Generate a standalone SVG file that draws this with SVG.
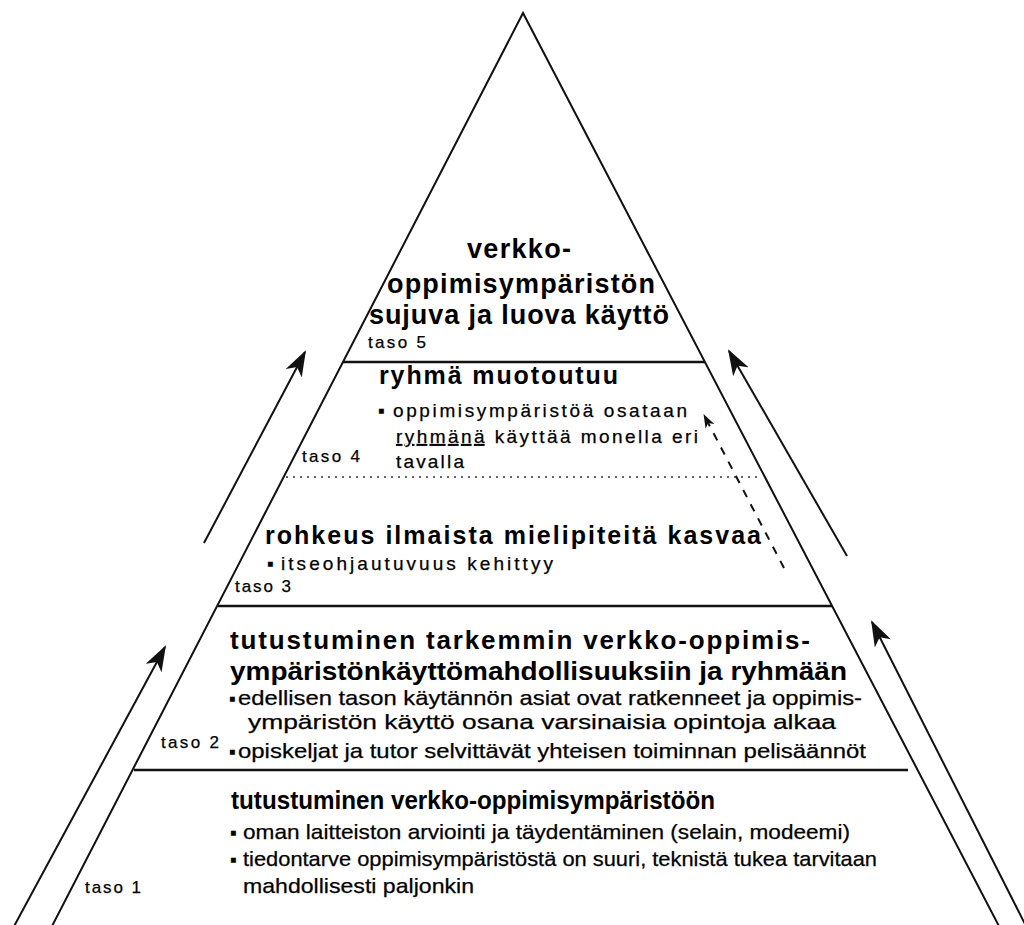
<svg xmlns="http://www.w3.org/2000/svg" width="1024" height="925" viewBox="0 0 1024 925">
<style>
  .t{font-family:"Liberation Sans",Arial,sans-serif;font-weight:bold;font-size:25px;fill:#000}
  .t5{font-size:27px}
  .t2{font-size:26px}
  .b{font-family:"Liberation Sans",Arial,sans-serif;font-size:19px;fill:#000;stroke:#000;stroke-width:0.25}
  .c{font-size:21px}
  .l{font-family:"Liberation Sans",Arial,sans-serif;font-size:17px;fill:#000;stroke:#000;stroke-width:0.25}
  .side{stroke:#111;stroke-width:2;fill:none}
  .hl{stroke:#111;stroke-width:2.5}
  .dot{stroke:#333;stroke-width:1.5;stroke-dasharray:2 5}
  .arr{stroke:#111;stroke-width:2;fill:none;marker-end:url(#ah)}
  .darr{stroke:#111;stroke-width:2;fill:none;stroke-dasharray:8 8;marker-end:url(#ahs)}
</style>
<defs>
  <marker id="ah" viewBox="0 0 26 18" refX="24" refY="9" markerWidth="26" markerHeight="18" orient="auto" markerUnits="userSpaceOnUse">
    <path d="M0,0 L26,9 L0,18 L7,9 Z" fill="#111"/>
  </marker>
  <marker id="ahs" viewBox="0 0 14 10" refX="13" refY="5" markerWidth="14" markerHeight="10" orient="auto" markerUnits="userSpaceOnUse">
    <path d="M0,0 L14,5 L0,10 L4,5 Z" fill="#111"/>
  </marker>
</defs>

<g id="pyramid">
  <polyline class="side" points="50,930 523,13 1001,930"/>
  <line class="hl" x1="343" y1="362" x2="705" y2="362"/>
  <line class="dot" x1="286" y1="477" x2="758" y2="477"/>
  <line class="hl" x1="218" y1="606" x2="832" y2="606" stroke-width="3"/>
  <line class="hl" x1="134" y1="770" x2="908" y2="770"/>
</g>

<g id="connectors">
  <line class="arr" x1="12" y1="930" x2="165" y2="647"/>
  <line class="arr" x1="204" y1="543" x2="305" y2="352"/>
  <line class="arr" x1="847" y1="556" x2="729" y2="351"/>
  <line class="arr" x1="1028" y1="930" x2="872" y2="622"/>
  <line class="darr" x1="784" y1="568" x2="704" y2="415"/>
</g>

<g id="taso5">
  <text class="t t5" x="519" y="258" text-anchor="middle" textLength="104">verkko-</text>
  <text class="t t5" x="521" y="293" text-anchor="middle" textLength="268">oppimisympäristön</text>
  <text class="t t5" x="519" y="324" text-anchor="middle" textLength="300">sujuva ja luova käyttö</text>
  <text class="l" x="368" y="348" textLength="58">taso 5</text>
</g>

<g id="taso4">
  <text class="t" x="379" y="384" textLength="239">ryhmä muotoutuu</text>
  <text class="b" x="378" y="417">▪</text>
  <text class="b" x="393" y="417" textLength="294">oppimisympäristöä osataan</text>
  <text class="b" x="396" y="443" textLength="302"><tspan text-decoration="underline">ryhmänä</tspan> käyttää monella eri</text>
  <text class="b" x="396" y="468" textLength="68">tavalla</text>
  <text class="l" x="302" y="462" textLength="58">taso 4</text>
</g>

<g id="taso3">
  <text class="t" x="265" y="544" textLength="496">rohkeus ilmaista mielipiteitä kasvaa</text>
  <text class="b" x="267" y="570">▪</text>
  <text class="b" x="281" y="570" textLength="272">itseohjautuvuus kehittyy</text>
  <text class="l" x="235" y="592" textLength="56">taso 3</text>
</g>

<g id="taso2">
  <text class="t t2" x="230" y="649" textLength="580">tutustuminen tarkemmin verkko-oppimis-</text>
  <text class="t t2" x="230" y="680" textLength="617" lengthAdjust="spacingAndGlyphs">ympäristönkäyttömahdollisuuksiin ja ryhmään</text>
  <text class="b" x="229" y="705">▪</text>
  <text class="b c" x="238" y="705" textLength="624" lengthAdjust="spacingAndGlyphs">edellisen tason käytännön asiat ovat ratkenneet ja oppimis-</text>
  <text class="b c" x="248" y="729" textLength="588" lengthAdjust="spacingAndGlyphs">ympäristön käyttö osana varsinaisia opintoja alkaa</text>
  <text class="l" x="161" y="748" textLength="58">taso 2</text>
  <text class="b" x="229" y="758">▪</text>
  <text class="b c" x="238" y="758" textLength="628" lengthAdjust="spacingAndGlyphs">opiskeljat ja tutor selvittävät yhteisen toiminnan pelisäännöt</text>
</g>

<g id="taso1">
  <text class="t t2" x="231" y="809" textLength="484" lengthAdjust="spacingAndGlyphs">tutustuminen verkko-oppimisympäristöön</text>
  <text class="b" x="230" y="839">▪</text>
  <text class="b c" x="243" y="839" textLength="607" lengthAdjust="spacingAndGlyphs">oman laitteiston arviointi ja täydentäminen (selain, modeemi)</text>
  <text class="b" x="230" y="866">▪</text>
  <text class="b c" x="243" y="866" textLength="634" lengthAdjust="spacingAndGlyphs">tiedontarve oppimisympäristöstä on suuri, teknistä tukea tarvitaan</text>
  <text class="b c" x="243" y="893" textLength="231" lengthAdjust="spacingAndGlyphs">mahdollisesti paljonkin</text>
  <text class="l" x="85" y="893" textLength="56">taso 1</text>
</g>
</svg>
